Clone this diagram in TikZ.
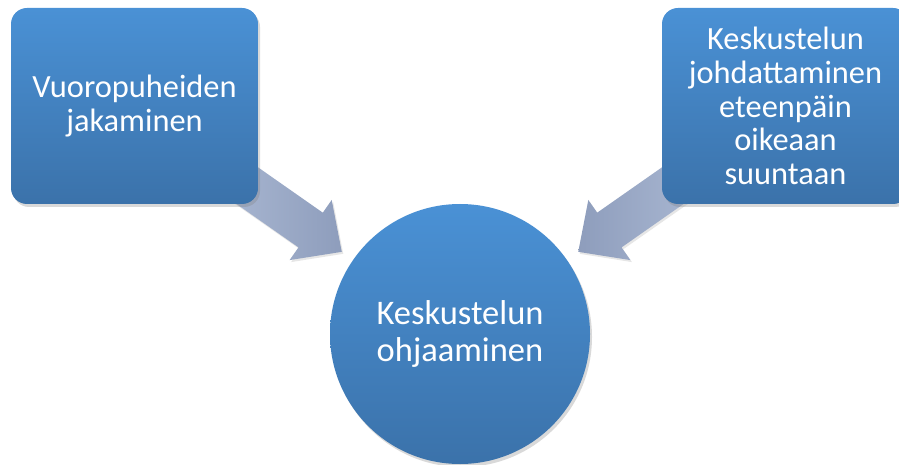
\documentclass[tikz,border=0pt]{standalone}
\usepackage{fontspec}
\setmainfont{Carlito}
\usetikzlibrary{shapes.arrows,shadows}

\definecolor{laatikkoyla}{RGB}{74,145,213}
\definecolor{laatikkoala}{RGB}{59,114,170}
\definecolor{nuoliyla}{RGB}{172,186,212}
\definecolor{nuoliala}{RGB}{142,157,188}

\begin{document}
\begin{tikzpicture}[
  x=1pt, y=1pt,
  every node/.style={text=white, align=center, inner sep=0pt},
  laatikko/.style={rectangle, rounded corners=16pt, minimum width=247pt, minimum height=196pt,
    top color=laatikkoyla, bottom color=laatikkoala,
    drop shadow={shadow xshift=2pt, shadow yshift=-3pt, opacity=0.3},
    font=\fontsize{32.4}{33.8}\selectfont},
  ympyra/.style={circle, minimum size=260pt,
    top color=laatikkoyla, bottom color=laatikkoala,
    drop shadow={shadow xshift=2pt, shadow yshift=-3pt, opacity=0.3},
    font=\fontsize{34.5}{37}\selectfont},
  nuoli/.style={single arrow, anchor=tip, minimum height=150pt, minimum width=73pt,
    inner xsep=0pt, inner ysep=21pt,
    single arrow head extend=15.5pt, single arrow tip angle=88,
    drop shadow={shadow xshift=1.5pt, shadow yshift=-2pt, opacity=0.2}}
]
  \useasboundingbox (0,0) rectangle (899,464);

  % nuolet laatikoista kohti ympyrää
  \node[nuoli, rotate=-35, left color=nuoliyla, right color=nuoliala] (n1) at (342,212) {};
  \node[nuoli, rotate=-145, left color=nuoliala, right color=nuoliyla] (n2) at (578,212) {};

  % laatikot
  \node[laatikko] (vuoro) at (134.5,358) {Vuoropuheiden\\jakaminen};
  \node[laatikko] (johd) at (785.5,358) {Keskustelun\\johdattaminen\\eteenpäin\\oikeaan\\suuntaan};

  % keskellä
  \node[ympyra] (ohj) at (460,130) {Keskustelun\\ohjaaminen};
\end{tikzpicture}
\end{document}
